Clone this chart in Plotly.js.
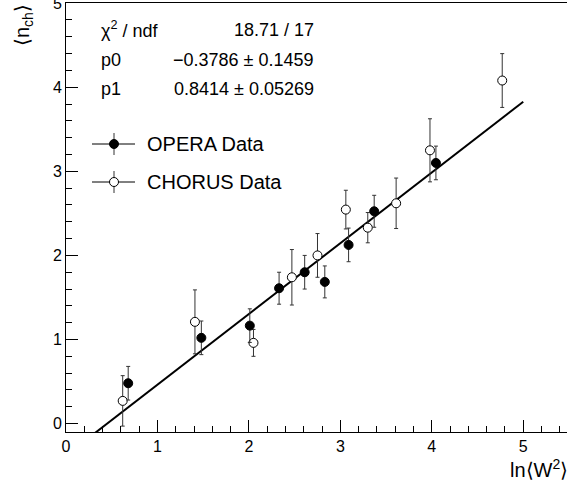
<!DOCTYPE html>
<html>
<head>
<meta charset="utf-8">
<script src="https://cdn.plot.ly/plotly-3.0.1.min.js"></script>
<style>
html,body{margin:0;padding:0;overflow:hidden;background:#fff;width:567px;height:491px;}
#chart{width:577px;height:491px;}
</style>
</head>
<body>
<div id="chart"></div>
<script>
// ---- data ----
var operaX   = [0.68, 1.48, 2.01, 2.33, 2.61, 2.83, 3.09, 3.37, 4.045];
var operaY   = [0.48, 1.02, 1.165, 1.61, 1.80, 1.685, 2.125, 2.525, 3.10];
var operaErr = [0.20, 0.20, 0.20, 0.19, 0.20, 0.19, 0.20, 0.19, 0.20];

var chorusX   = [0.62, 1.41, 2.05, 2.47, 2.75, 3.06, 3.30, 3.61, 3.98, 4.77];
var chorusY   = [0.27, 1.21, 0.96, 1.74, 2.00, 2.545, 2.33, 2.62, 3.25, 4.08];
var chorusErr = [0.30, 0.38, 0.16, 0.33, 0.26, 0.23, 0.18, 0.30, 0.375, 0.32];

var fitP0 = -0.3786, fitP0Err = 0.1459;
var fitP1 = 0.8414,  fitP1Err = 0.05269;
var fitChi2 = 18.71, fitNdf = 17;
var fitRange = [0, 5];

var statLabels = ["χ<sup>2</sup> / ndf", "p0", "p1"];
var statValues = [fitChi2.toFixed(2) + " / " + fitNdf,
                  "\u2212" + Math.abs(fitP0).toFixed(4) + " \u00b1 " + fitP0Err.toFixed(4),
                  fitP1.toFixed(4) + " \u00b1 " + fitP1Err.toFixed(5)];
var legendNames = ["OPERA Data", "CHORUS Data"];

// ---- build ----
var FONT = "Liberation Sans, Arial, Helvetica, sans-serif";
var fitX = fitRange.slice();
var fitY = fitX.map(function(x){ return fitP0 + fitP1 * x; });

var traces = [
  {x: fitX, y: fitY, mode: 'lines', line: {color: '#000', width: 2}, showlegend: false, hoverinfo: 'skip'},
  {x: chorusX, y: chorusY, mode: 'markers', name: legendNames[1], showlegend: false,
   error_y: {type: 'data', array: chorusErr, color: '#333', thickness: 1, width: 2},
   marker: {symbol: 'circle', size: 9, color: '#fff', line: {color: '#000', width: 1}}},
  {x: operaX, y: operaY, mode: 'markers', name: legendNames[0], showlegend: false,
   error_y: {type: 'data', array: operaErr, color: '#333', thickness: 1, width: 2},
   marker: {symbol: 'circle', size: 9, color: '#000', line: {color: '#000', width: 1}}}
];

var W = 577;
var L = 66, R = 576, T = 3, B = 432;
var XPU = 91.45; // px per x unit
function px(p){ return (p - L) / (R - L); }
function py(p){ return (B - p) / (B - T); }

var annotations = [];
var rowsY = [30, 60, 89];
for (var i = 0; i < statLabels.length; i++) {
  annotations.push({xref: 'paper', yref: 'paper', x: px(99), y: py(rowsY[i]), xanchor: 'left', yanchor: 'middle',
    text: statLabels[i], showarrow: false, font: {family: FONT, size: 18, color: '#000'}});
  annotations.push({xref: 'paper', yref: 'paper', x: px(316), y: py(rowsY[i]), xanchor: 'right', yanchor: 'middle',
    text: statValues[i], showarrow: false, font: {family: FONT, size: 18, color: '#000'}});
}
var legY = [144, 182];
var shapes = [];
for (var j = 0; j < legendNames.length; j++) {
  annotations.push({xref: 'paper', yref: 'paper', x: px(145), y: py(legY[j]), xanchor: 'left', yanchor: 'middle',
    text: legendNames[j], showarrow: false, font: {family: FONT, size: 20, color: '#000'}});
  var ax = px(114), ay = py(legY[j]);
  shapes.push({type: 'line', xref: 'paper', yref: 'paper', xsizemode: 'pixel', ysizemode: 'pixel',
    xanchor: ax, yanchor: ay, x0: -22, x1: 21, y0: 0, y1: 0, line: {color: '#000', width: 1}});
  shapes.push({type: 'line', xref: 'paper', yref: 'paper', xsizemode: 'pixel', ysizemode: 'pixel',
    xanchor: ax, yanchor: ay, x0: 0, x1: 0, y0: -11, y1: 11, line: {color: '#333', width: 1}});
  shapes.push({type: 'circle', xref: 'paper', yref: 'paper', xsizemode: 'pixel', ysizemode: 'pixel',
    xanchor: ax, yanchor: ay, x0: -4.5, x1: 4.5, y0: -4.5, y1: 4.5,
    fillcolor: j === 0 ? '#000' : '#fff', line: {color: '#000', width: 1}});
}
annotations.push({xref: 'paper', yref: 'paper', x: px(24), y: py(2), xanchor: 'center', yanchor: 'top',
  textangle: -90, text: "\u27e8n<sub>ch</sub>\u27e9", showarrow: false, font: {family: FONT, size: 20, color: '#000'}});
annotations.push({xref: 'paper', yref: 'paper', x: px(570), y: py(468), xanchor: 'right', yanchor: 'middle',
  text: "ln\u27e8W<sup>2</sup>\u27e9", showarrow: false, font: {family: FONT, size: 20, color: '#000'}});

var axisCommon = {
  showgrid: false, zeroline: false, showline: true, linecolor: '#000', linewidth: 1, mirror: true,
  ticks: 'inside', ticklen: 12, tickcolor: '#000', tickwidth: 1, dtick: 1,
  tickfont: {family: FONT, size: 16, color: '#000'}, ticklabeloverflow: 'allow',
  minor: {dtick: 0.2, ticks: 'inside', ticklen: 6, tickcolor: '#000', tickwidth: 1, showgrid: false}
};
var layout = {
  width: W, height: 491,
  margin: {l: L, r: W - R, t: T, b: 491 - B},
  paper_bgcolor: '#fff', plot_bgcolor: '#fff',
  showlegend: false,
  xaxis: Object.assign({}, axisCommon, {range: [0, (R - L) / XPU], tick0: 0}),
  yaxis: Object.assign({}, axisCommon, {range: [-0.1, 5.002], tick0: 0}),
  annotations: annotations,
  shapes: shapes
};
Plotly.newPlot('chart', traces, layout, {staticPlot: true, displayModeBar: false});
</script>
</body>
</html>
